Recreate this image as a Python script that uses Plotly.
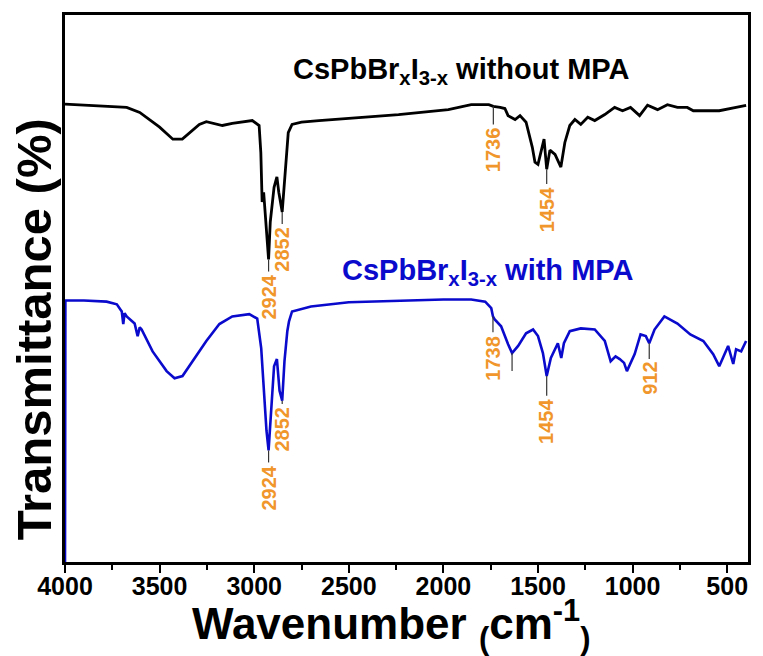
import numpy as np
import plotly.graph_objects as go

# FTIR spectra (wavenumber in cm-1, transmittance in offset arbitrary units)
wn_plain = [4000, 3900, 3800, 3674, 3605, 3500, 3430, 3380, 3290, 3253, 3168, 3116,
            3010, 2974, 2965, 2958, 2950, 2935, 2924, 2915, 2895, 2880, 2870, 2852,
            2840, 2820, 2800, 2750, 2658, 2450, 2237, 1974, 1853, 1760, 1736, 1700,
            1675, 1658, 1621, 1595, 1563, 1530, 1516, 1500, 1484, 1468, 1454, 1437,
            1410, 1379, 1358, 1332, 1305, 1274, 1237, 1200, 1147, 1095, 1053, 1011,
            963, 921, 868, 816, 763, 711, 679, 626, 542, 453, 400]
t_plain = [83.7, 83.5, 83.3, 83.1, 82.2, 79.5, 77.3, 77.3, 80.0, 80.5, 79.8, 80.2,
           80.7, 79.8, 74.9, 65.8, 67.6, 60.4, 55.3, 62.2, 68.5, 70.4, 67.6, 64.0,
           69.5, 78.5, 80.0, 80.4, 80.7, 81.3, 81.8, 82.7, 83.6, 83.6, 83.3, 83.1,
           82.9, 81.6, 80.9, 81.6, 80.4, 75.8, 73.1, 72.7, 74.9, 77.3, 71.8, 75.3,
           74.5, 72.2, 76.7, 79.8, 80.9, 80.0, 81.3, 80.7, 81.8, 83.1, 82.5, 83.1,
           81.6, 83.5, 82.7, 83.6, 83.1, 83.1, 82.5, 82.5, 82.5, 83.1, 83.5]

wn_mpa = [4000, 3998, 3900, 3780, 3726, 3700, 3692, 3685, 3674, 3632, 3616, 3605,
          3595, 3537, 3463, 3421, 3379, 3326, 3253, 3184, 3116, 3026, 2984, 2963,
          2947, 2935, 2924, 2915, 2895, 2880, 2866, 2852, 2840, 2825, 2816, 2800,
          2700, 2500, 2200, 2000, 1853, 1779, 1747, 1738, 1730, 1695, 1658, 1637,
          1605, 1563, 1526, 1500, 1474, 1454, 1432, 1395, 1377, 1363, 1332, 1274,
          1200, 1147, 1116, 1090, 1068, 1045, 1030, 989, 958, 930, 912, 884, 832,
          763, 695, 626, 574, 542, 495, 468, 453, 426, 400]
t_mpa = [0.0, 47.8, 47.8, 47.6, 47.1, 45.8, 43.5, 45.5, 44.9, 43.6, 41.3, 42.9,
         42.5, 38.5, 34.9, 33.6, 34.0, 36.7, 40.4, 43.5, 44.9, 45.3, 44.5, 39.1,
         29.5, 24.0, 20.4, 25.8, 35.8, 37.1, 31.3, 29.5, 36.7, 42.2, 44.0, 45.8,
         46.7, 47.5, 47.8, 48.0, 48.0, 47.6, 46.4, 44.9, 44.4, 43.1, 39.8, 38.2,
         39.5, 41.8, 42.5, 41.3, 38.2, 34.0, 37.3, 40.0, 37.3, 40.0, 42.2, 42.7,
         42.5, 40.4, 36.7, 37.6, 37.1, 36.4, 34.9, 38.0, 41.6, 41.3, 40.0, 42.5, 44.9,
         43.6, 41.6, 40.4, 38.0, 35.8, 39.5, 36.2, 38.9, 38.5, 40.4]

# Marked bands: (wavenumber, label text)
bands_plain = [(2924, "2924"), (2852, "2852"), (1736, "1736"), (1454, "1454")]
bands_mpa = [(2924, "2924"), (2852, "2852"), (1738, "1738"), (1637, ""),
             (1454, "1454"), (912, "912")]

# leader lengths (y units) for each marker, same order as above
leader_plain = [2.2, 2.2, 3.3, 2.7]
leader_mpa = [2.2, 0.6, 2.9, 3.3, 3.6, 2.9]

BLACK = "#000000"
BLUE = "#0A0ACD"
ORANGE = "#F0962B"
FONT = "Liberation Sans, Arial, sans-serif"

fig = go.Figure()
fig.add_trace(go.Scatter(x=wn_plain, y=t_plain, mode="lines",
                         line=dict(color=BLACK, width=2.8), showlegend=False))
fig.add_trace(go.Scatter(x=wn_mpa, y=t_mpa, mode="lines",
                         line=dict(color=BLUE, width=2.6), showlegend=False))


def mark_bands(wn, t, bands, lengths):
    xs = np.array(wn[::-1], dtype=float)
    ys = np.array(t[::-1], dtype=float)
    for (w, label), length in zip(bands, lengths):
        top = float(np.interp(w, xs, ys))
        bottom = top - length
        fig.add_shape(type="line", x0=w, x1=w, y0=top, y1=bottom,
                      line=dict(color="#333333", width=1.2))
        if label:
            fig.add_annotation(x=w, y=bottom, text=label, textangle=-90,
                               showarrow=False, xanchor="center", yanchor="top",
                               yshift=-1,
                               font=dict(family=FONT, size=20, color=ORANGE,
                                         weight="bold"))


mark_bands(wn_plain, t_plain, bands_plain, leader_plain)
mark_bands(wn_mpa, t_mpa, bands_mpa, leader_mpa)

fig.add_annotation(xref="paper", yref="paper", x=0.58, y=0.898,
                   text="CsPbBr<sub>x</sub>I<sub>3-x</sub> without MPA",
                   showarrow=False, xanchor="center", yanchor="middle",
                   font=dict(family=FONT, size=29, color=BLACK, weight="bold"))
fig.add_annotation(xref="paper", yref="paper", x=0.618, y=0.53,
                   text="CsPbBr<sub>x</sub>I<sub>3-x</sub> with MPA",
                   showarrow=False, xanchor="center", yanchor="middle",
                   font=dict(family=FONT, size=29, color=BLUE, weight="bold"))

# axis titles
fig.add_annotation(xref="paper", yref="paper", x=-0.045, y=0.426,
                   text="Transmittance (%)", textangle=-90, showarrow=False,
                   xanchor="center", yanchor="middle",
                   font=dict(family=FONT, size=49, color=BLACK, weight="bold"))
fig.add_annotation(xref="paper", yref="paper", x=0.477, y=-0.115,
                   text="Wavenumber <sub>(</sub>cm<sup>-1</sup><sub>)</sub>",
                   showarrow=False, xanchor="center", yanchor="middle",
                   font=dict(family=FONT, size=44, color=BLACK, weight="bold"))

fig.update_xaxes(range=[4000, 390], tick0=500, dtick=500, ticks="outside",
                 ticklen=8, tickwidth=2, tickcolor=BLACK, ticklabelstandoff=-8,
                 minor=dict(dtick=250, tick0=250, ticks="outside", ticklen=5,
                            tickwidth=2, tickcolor=BLACK),
                 showline=True, linecolor=BLACK, linewidth=2.5, mirror=True,
                 showgrid=False, zeroline=False,
                 tickfont=dict(family=FONT, size=25, color=BLACK, weight="bold"))
fig.update_yaxes(range=[0, 100], showticklabels=False, ticks="",
                 showline=True, linecolor=BLACK, linewidth=2.5, mirror=True,
                 showgrid=False, zeroline=False)

fig.update_layout(width=763, height=656,
                  margin=dict(l=65, r=13, t=12, b=94),
                  paper_bgcolor="white", plot_bgcolor="white")

fig.write_html("out.html")
